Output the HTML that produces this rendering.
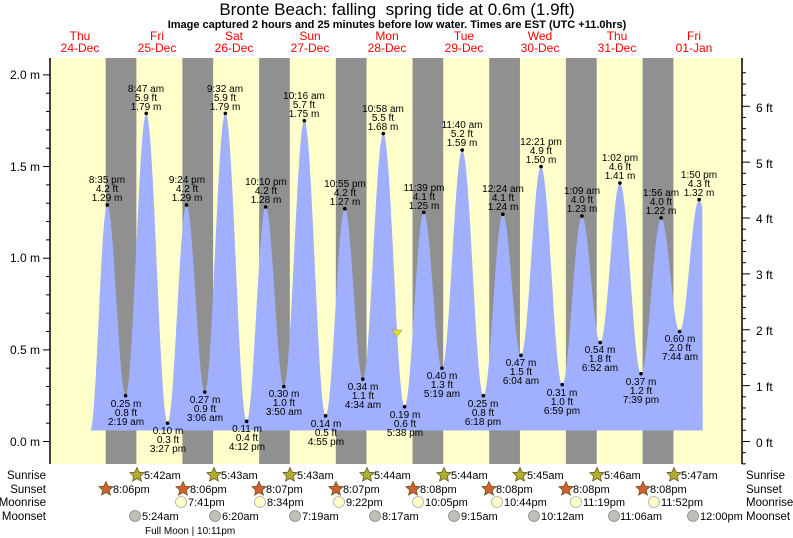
<!DOCTYPE html>
<html><head><meta charset="utf-8"><style>
body{margin:0;background:#fff;}
svg{display:block;font-family:"Liberation Sans",sans-serif;}
.hl text,.lb text{font-size:10px;fill:#000;text-anchor:middle;}
.d{font-size:12px;fill:#f00;text-anchor:middle;}
.r{font-size:12px;fill:#000;}
.r2{font-size:11.5px;fill:#000;}
.s{font-size:11px;fill:#000;}
</style></head><body>
<svg id="c" width="793" height="538" viewBox="0 0 793 538">
<text x="397" y="15" font-size="17" text-anchor="middle">Bronte Beach: falling&#160; spring tide at 0.6m (1.9ft)</text>
<text x="397" y="28" font-size="11" font-weight="bold" text-anchor="middle">Image captured 2 hours and 25 minutes before low water. Times are EST (UTC +11.0hrs)</text>
<g class="d">
<text x="80" y="40">Thu</text><text x="80" y="52">24-Dec</text>
<text x="157" y="40">Fri</text><text x="157" y="52">25-Dec</text>
<text x="234" y="40">Sat</text><text x="234" y="52">26-Dec</text>
<text x="310" y="40">Sun</text><text x="310" y="52">27-Dec</text>
<text x="387" y="40">Mon</text><text x="387" y="52">28-Dec</text>
<text x="464" y="40">Tue</text><text x="464" y="52">29-Dec</text>
<text x="540" y="40">Wed</text><text x="540" y="52">30-Dec</text>
<text x="617" y="40">Thu</text><text x="617" y="52">31-Dec</text>
<text x="694" y="40">Fri</text><text x="694" y="52">01-Jan</text>
</g>
<rect x="50" y="58" width="692" height="406" fill="#ffffcc"/>
<g id="nights" fill="#909090"></g>
<path id="tide" fill="#a0b0ff" d=""/>
<g id="dots" fill="#000"></g>
<polygon points="392,330 402,330 397,337" fill="#e0e020" stroke="#888" stroke-width="0.5"/>
<line x1="50" y1="58" x2="50" y2="464" stroke="#000" stroke-width="1.5"/>
<line x1="742" y1="58" x2="742" y2="464" stroke="#000" stroke-width="1.5"/>
<g id="ticks" stroke="#000" stroke-width="1"></g>
<g class="r">
<text x="40" y="79" text-anchor="end">2.0 m</text>
<text x="40" y="171" text-anchor="end">1.5 m</text>
<text x="40" y="262" text-anchor="end">1.0 m</text>
<text x="40" y="354" text-anchor="end">0.5 m</text>
<text x="40" y="446" text-anchor="end">0.0 m</text>
<text x="756" y="447">0 ft</text><text x="756" y="391">1 ft</text><text x="756" y="335">2 ft</text>
<text x="756" y="279">3 ft</text><text x="756" y="223">4 ft</text><text x="756" y="168">5 ft</text><text x="756" y="112">6 ft</text>
</g>
<g class="hl">
<text x="107" y="183">8:35 pm</text><text x="107" y="192">4.2 ft</text><text x="107" y="201">1.29 m</text>
<text x="146" y="92">8:47 am</text><text x="146" y="101">5.9 ft</text><text x="146" y="110">1.79 m</text>
<text x="187" y="183">9:24 pm</text><text x="187" y="192">4.2 ft</text><text x="187" y="201">1.29 m</text>
<text x="225" y="92">9:32 am</text><text x="225" y="101">5.9 ft</text><text x="225" y="110">1.79 m</text>
<text x="266" y="185">10:10 pm</text><text x="266" y="194">4.2 ft</text><text x="266" y="203">1.28 m</text>
<text x="304" y="99">10:16 am</text><text x="304" y="108">5.7 ft</text><text x="304" y="117">1.75 m</text>
<text x="345" y="187">10:55 pm</text><text x="345" y="196">4.2 ft</text><text x="345" y="205">1.27 m</text>
<text x="383" y="112">10:58 am</text><text x="383" y="121">5.5 ft</text><text x="383" y="130">1.68 m</text>
<text x="424" y="191">11:39 pm</text><text x="424" y="200">4.1 ft</text><text x="424" y="209">1.25 m</text>
<text x="462" y="128">11:40 am</text><text x="462" y="137">5.2 ft</text><text x="462" y="146">1.59 m</text>
<text x="503" y="192">12:24 am</text><text x="503" y="201">4.1 ft</text><text x="503" y="210">1.24 m</text>
<text x="541" y="145">12:21 pm</text><text x="541" y="154">4.9 ft</text><text x="541" y="163">1.50 m</text>
<text x="582" y="194">1:09 am</text><text x="582" y="203">4.0 ft</text><text x="582" y="212">1.23 m</text>
<text x="620" y="161">1:02 pm</text><text x="620" y="170">4.6 ft</text><text x="620" y="179">1.41 m</text>
<text x="661" y="196">1:56 am</text><text x="661" y="205">4.0 ft</text><text x="661" y="214">1.22 m</text>
<text x="699" y="178">1:50 pm</text><text x="699" y="187">4.3 ft</text><text x="699" y="196">1.32 m</text>
</g>
<g class="lb">
<text x="126" y="407">0.25 m</text><text x="126" y="416">0.8 ft</text><text x="126" y="425">2:19 am</text>
<text x="168" y="434">0.10 m</text><text x="168" y="443">0.3 ft</text><text x="168" y="452">3:27 pm</text>
<text x="205" y="403">0.27 m</text><text x="205" y="412">0.9 ft</text><text x="205" y="421">3:06 am</text>
<text x="247" y="432">0.11 m</text><text x="247" y="441">0.4 ft</text><text x="247" y="450">4:12 pm</text>
<text x="284" y="397">0.30 m</text><text x="284" y="406">1.0 ft</text><text x="284" y="415">3:50 am</text>
<text x="326" y="427">0.14 m</text><text x="326" y="436">0.5 ft</text><text x="326" y="445">4:55 pm</text>
<text x="363" y="390">0.34 m</text><text x="363" y="399">1.1 ft</text><text x="363" y="408">4:34 am</text>
<text x="405" y="418">0.19 m</text><text x="405" y="427">0.6 ft</text><text x="405" y="436">5:38 pm</text>
<text x="442" y="379">0.40 m</text><text x="442" y="388">1.3 ft</text><text x="442" y="397">5:19 am</text>
<text x="483" y="407">0.25 m</text><text x="483" y="416">0.8 ft</text><text x="483" y="425">6:18 pm</text>
<text x="521" y="366">0.47 m</text><text x="521" y="375">1.5 ft</text><text x="521" y="384">6:04 am</text>
<text x="562" y="396">0.31 m</text><text x="562" y="405">1.0 ft</text><text x="562" y="414">6:59 pm</text>
<text x="600" y="353">0.54 m</text><text x="600" y="362">1.8 ft</text><text x="600" y="371">6:52 am</text>
<text x="641" y="385">0.37 m</text><text x="641" y="394">1.2 ft</text><text x="641" y="403">7:39 pm</text>
<text x="680" y="342">0.60 m</text><text x="680" y="351">2.0 ft</text><text x="680" y="360">7:44 am</text>
</g>
<g class="r2">
<text x="46" y="479" text-anchor="end">Sunrise</text>
<text x="46" y="493" text-anchor="end">Sunset</text>
<text x="46" y="506" text-anchor="end">Moonrise</text>
<text x="46" y="520" text-anchor="end">Moonset</text>
<text x="746" y="479">Sunrise</text>
<text x="746" y="493">Sunset</text>
<text x="746" y="506">Moonrise</text>
<text x="746" y="520">Moonset</text>
</g>
<g id="icons"></g>
<g class="s">
<text x="144" y="479">5:42am</text><text x="221" y="479">5:43am</text><text x="297" y="479">5:43am</text><text x="374" y="479">5:44am</text>
<text x="451" y="479">5:44am</text><text x="527" y="479">5:45am</text><text x="604" y="479">5:46am</text><text x="681" y="479">5:47am</text>
<text x="113" y="493">8:06pm</text><text x="190" y="493">8:06pm</text><text x="266" y="493">8:07pm</text><text x="343" y="493">8:07pm</text>
<text x="420" y="493">8:08pm</text><text x="496" y="493">8:08pm</text><text x="573" y="493">8:08pm</text><text x="650" y="493">8:08pm</text>
<text x="188" y="506">7:41pm</text><text x="267" y="506">8:34pm</text><text x="346" y="506">9:22pm</text><text x="425" y="506">10:05pm</text>
<text x="504" y="506">10:44pm</text><text x="583" y="506">11:19pm</text><text x="661" y="506">11:52pm</text>
<text x="142" y="520">5:24am</text><text x="222" y="520">6:20am</text><text x="302" y="520">7:19am</text><text x="382" y="520">8:17am</text>
<text x="461" y="520">9:15am</text><text x="541" y="520">10:12am</text><text x="620" y="520">11:06am</text><text x="700" y="520">12:00pm</text>
<text x="145" y="534" font-size="10">Full Moon | 10:11pm</text>
</g>
</svg>
<script>
(function(){
var NS="http://www.w3.org/2000/svg";
function X(h){return 41.5+h*3.195;}
function Y(v){return 441.5-v*183.3;}
function el(p,t,a){var e=document.createElementNS(NS,t);for(var k in a)e.setAttribute(k,a[k]);document.getElementById(p).appendChild(e);return e;}
var nights=[[20.1,29.7],[44.1,53.72],[68.12,77.72],[92.12,101.73],[116.13,125.73],[140.13,149.75],[164.13,173.77],[188.13,197.78]];
nights.forEach(function(n){el("nights","rect",{x:X(n[0]),y:58,width:X(n[1])-X(n[0]),height:406});});
var ex=[[15.2,0.055],[20.58,1.29],[26.32,.25],[32.78,1.79],[39.45,.10],[45.4,1.29],[51.1,.27],[57.53,1.79],[64.2,.11],[70.17,1.28],[75.83,.30],[82.27,1.75],[88.92,.14],[94.92,1.27],[100.57,.34],[106.97,1.68],[113.63,.19],[119.65,1.25],[125.32,.40],[131.67,1.59],[138.3,.25],[144.4,1.24],[150.07,.47],[156.35,1.50],[162.98,.31],[169.15,1.23],[174.87,.54],[181.03,1.41],[187.65,.37],[193.93,1.22],[199.73,.60],[205.83,1.32],[212,.6]];
var base=0.06,d="M"+X(15.2)+","+Y(base);
var hEnd=(702.7-41.5)/3.195;
for(var i=0;i<ex.length-1;i++){var a=ex[i],b=ex[i+1];
for(var h=a[0];h<b[0];h+=0.25){if(h>hEnd)break;var t=(h-a[0])/(b[0]-a[0]);var v=a[1]+(b[1]-a[1])*(1-Math.cos(Math.PI*t))/2;if(v<base)v=base;d+=" L"+X(h).toFixed(1)+","+Y(v).toFixed(1);}
if(h>hEnd)break;}
d+=" L702.7,"+Y(base)+" Z";
document.getElementById("tide").setAttribute("d",d);
for(var i=1;i<ex.length-1;i++)el("dots","circle",{cx:X(ex[i][0]),cy:Y(ex[i][1]),r:1.8});
for(var v=0;v<=2.05;v+=0.1){var y=Y(v),maj=Math.abs(v*2-Math.round(v*2))<0.01;el("ticks","line",{x1:maj?43:46,y1:y,x2:50,y2:y});}
for(var f=-0.6;f<=6.8;f+=0.2){var y=441.5-f*0.3048*183.3;if(y<58||y>464)continue;var maj=Math.abs(f-Math.round(f))<0.01;el("ticks","line",{x1:742,y1:y,x2:maj?750:746,y2:y});}
function star(cx,cy,fill){var p=[];for(var k=0;k<10;k++){var r=k%2?3.5:7.5,a=-Math.PI/2+k*Math.PI/5;p.push((cx+r*Math.cos(a)).toFixed(1)+","+(cy+r*Math.sin(a)).toFixed(1));}el("icons","polygon",{points:p.join(" "),fill:fill,stroke:"#6a5a20","stroke-width":0.8});}
[137,214,290,367,444,520,597,674].forEach(function(x){star(x,475,"#b0b030");});
[106,183,259,336,413,489,566,643].forEach(function(x){star(x,489,"#d06030");});
[181,260,339,418,497,576,654].forEach(function(x){el("icons","circle",{cx:x,cy:502,r:5.5,fill:"#ffffc8",stroke:"#aaa","stroke-width":0.8});});
[135,215,295,375,454,534,614,693].forEach(function(x){el("icons","circle",{cx:x,cy:516,r:5.5,fill:"#c0c0b8",stroke:"#888","stroke-width":0.8});});
})();
</script>
</body></html>
